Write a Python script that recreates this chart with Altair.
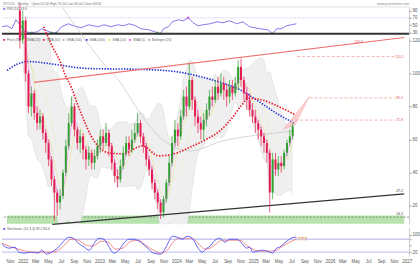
import altair as alt
import pandas as pd
import numpy as np

FONT = "Liberation Sans"

# ---------------- price candles (two-week bars) ----------------
candle_start = "2021-11-26"
candle_step_days = 14
first_open = 138
close = [120, 132, 100, 80, 88, 76, 70, 74, 64, 58,
         48, 36, 28, 22, 26, 40, 56, 70, 80, 66,
         58, 62, 54, 48, 52, 46, 50, 56, 62, 58,
         64, 56, 46, 38, 36, 44, 52, 58, 54, 60,
         64, 70, 62, 56, 48, 42, 34, 28, 22, 16,
         24, 34, 46, 58, 66, 62, 74, 86, 80, 96,
         84, 74, 70, 66, 72, 78, 86, 84, 92, 88,
         94, 90, 86, 92, 88, 94, 104, 96, 88, 84,
         78, 74, 70, 66, 62, 58, 52, 28, 48, 42,
         46, 44, 52, 58, 62, 68]
high = [142, 138, 134, 102, 92, 90, 80, 78, 76, 66,
        60, 50, 38, 30, 30, 42, 60, 76, 86, 82,
        68, 66, 64, 56, 56, 54, 54, 60, 66, 66,
        70, 66, 58, 48, 42, 48, 56, 62, 62, 66,
        70, 76, 72, 64, 58, 50, 44, 36, 30, 24,
        26, 36, 50, 62, 72, 70, 78, 90, 92, 106,
        98, 86, 78, 74, 76, 82, 90, 92, 96, 98,
        100, 98, 94, 96, 96, 98, 108, 109, 98, 92,
        88, 82, 78, 72, 68, 64, 60, 54, 52, 52,
        50, 50, 54, 60, 66, 70]
low = [115, 118, 95, 76, 74, 72, 66, 66, 60, 52,
       44, 32, 11, 14, 18, 24, 38, 54, 68, 62,
       54, 52, 48, 42, 44, 42, 42, 48, 52, 54,
       56, 50, 42, 34, 31, 34, 42, 50, 50, 52,
       58, 62, 58, 52, 44, 38, 30, 24, 18, 12,
       13, 22, 32, 44, 56, 56, 60, 72, 74, 78,
       78, 68, 64, 60, 60, 68, 74, 80, 82, 84,
       86, 84, 80, 82, 84, 86, 90, 92, 84, 78,
       74, 70, 64, 60, 56, 52, 46, 16, 24, 38,
       38, 40, 42, 50, 56, 60]

# ---------------- long moving averages (decimal year, price) ----------------
sma200_t = [2021.729, 2021.858, 2022.013, 2022.181, 2022.374, 2022.800, 2023.535,
            2023.961, 2024.400, 2024.658, 2024.826, 2025.084, 2025.342, 2025.561]
sma200_v = [101.8, 105.4, 107.2, 106.6, 105.4, 103.0, 102.4,
            101.2, 97.0, 93.4, 90.4, 83.2, 75.4, 70.0]
sma50_t = [2022.219, 2022.335, 2022.439, 2022.503, 2022.594, 2022.671, 2022.761, 2022.852,
           2022.955, 2023.084, 2023.277, 2023.535, 2023.755, 2023.961, 2024.181, 2024.400,
           2024.568, 2024.723, 2024.852, 2024.955, 2025.148, 2025.342, 2025.561]
sma50_v = [128.2, 116.2, 107.2, 99.4, 91.0, 81.4, 71.2, 62.2,
           55.6, 52.0, 51.4, 56.2, 50.2, 51.4, 55.6, 60.4,
           65.2, 72.4, 80.2, 85.0, 83.8, 80.2, 75.4]
sma100_t = [2022.465, 2022.697, 2022.994, 2023.213, 2023.471, 2023.794, 2024.181, 2024.606, 2025.084, 2025.561]
sma100_v = [140.2, 125.2, 107.2, 96.4, 78.4, 60.4, 53.2, 59.2, 62.8, 65.2]

# ---------------- drawings ----------------
red_tl_t = [2022.090, 2027.032]
red_tl_p = [94.6, 121.7]
blk_tl_t = [2022.335, 2027.032]
blk_tl_p = [8.8, 27.2]
level_p = [110.2, 85.2, 71.8]
level_start = [2025.600, 2025.768, 2025.574]
level_end = 2026.916
wedge_t = [2025.419, 2025.574, 2025.768]
wedge_top = [66.4, 75.2, 86.2]
wedge_bot = [66.4, 68.8, 86.2]
band_lo, band_hi, band_line = 9.2, 14.2, 13.2

# ---------------- RSI ----------------
rsi_t = [2021.729, 2021.794, 2021.858, 2021.910, 2021.974, 2022.026, 2022.116, 2022.194, 2022.245,
         2022.310, 2022.374, 2022.439, 2022.503, 2022.594, 2022.658, 2022.761, 2022.852, 2022.981,
         2023.058, 2023.148, 2023.239, 2023.316, 2023.381, 2023.471, 2023.535, 2023.639, 2023.755,
         2023.794, 2023.832, 2023.897, 2023.948, 2024.026, 2024.090, 2024.155, 2024.219, 2024.284,
         2024.348, 2024.439, 2024.529, 2024.606, 2024.697, 2024.787, 2024.865, 2024.955, 2025.084,
         2025.187, 2025.252, 2025.303, 2025.368, 2025.432, 2025.497, 2025.561]
rsi_v = [45.5, 48.2, 40.0, 64.5, 48.2, 31.8, 29.1, 31.8, 40.0,
         34.5, 29.1, 29.1, 45.5, 53.6, 48.2, 42.7, 50.9, 45.5,
         50.9, 45.5, 50.9, 48.2, 53.6, 48.2, 40.0, 37.3, 29.1,
         26.4, 40.0, 45.5, 59.1, 64.5, 61.8, 70.0, 56.4, 48.2,
         50.9, 53.6, 59.1, 56.4, 61.8, 53.6, 59.1, 45.5, 40.0,
         37.3, 26.4, 40.0, 40.0, 48.2, 50.9, 53.6]

# ---------------- Stochastic ----------------
stk_t = [2021.729, 2021.819, 2021.897, 2021.948, 2022.026, 2022.116, 2022.206, 2022.245, 2022.310, 2022.374,
         2022.465, 2022.542, 2022.594, 2022.658, 2022.723, 2022.800, 2022.865, 2022.929, 2022.994, 2023.058,
         2023.110, 2023.187, 2023.252, 2023.316, 2023.381, 2023.445, 2023.535, 2023.626, 2023.703, 2023.794,
         2023.858, 2023.897, 2023.948, 2024.013, 2024.077, 2024.142, 2024.206, 2024.284, 2024.335, 2024.400,
         2024.439, 2024.503, 2024.568, 2024.632, 2024.697, 2024.787, 2024.852, 2024.916, 2024.955, 2024.994,
         2025.058, 2025.123, 2025.213, 2025.252, 2025.303, 2025.342, 2025.406, 2025.471, 2025.535, 2025.561]
stk_v = [56.9, 38.5, 43.1, 20.0, 15.4, 20.0, 15.4, 29.2, 10.8, 20.0,
         43.1, 75.4, 89.2, 84.6, 61.5, 43.1, 29.2, 61.5, 84.6, 80.0,
         52.3, 15.4, 29.2, 61.5, 80.0, 80.0, 66.1, 38.5, 15.4, 10.8,
         38.5, 66.1, 93.8, 89.2, 80.0, 93.8, 84.6, 38.5, 20.0, 38.5,
         47.7, 75.4, 84.6, 66.1, 80.0, 80.0, 61.5, 38.5, 43.1, 20.0,
         24.6, 29.2, 20.0, 15.4, 38.5, 43.1, 61.5, 80.0, 89.2, 89.2]
std_t = [2021.729, 2021.858, 2021.987, 2022.116, 2022.245, 2022.374, 2022.465, 2022.542, 2022.632, 2022.723,
         2022.826, 2022.916, 2023.019, 2023.110, 2023.213, 2023.303, 2023.406, 2023.510, 2023.600, 2023.703,
         2023.794, 2023.884, 2023.948, 2024.026, 2024.116, 2024.206, 2024.284, 2024.374, 2024.439, 2024.516,
         2024.594, 2024.697, 2024.826, 2024.916, 2024.994, 2025.084, 2025.213, 2025.303, 2025.381, 2025.471,
         2025.561]
std_v = [61.5, 43.1, 29.2, 20.0, 20.0, 20.0, 29.2, 52.3, 80.0, 75.4,
         52.3, 47.7, 70.8, 66.1, 33.8, 38.5, 70.8, 75.4, 52.3, 29.2,
         15.4, 29.2, 61.5, 84.6, 84.6, 84.6, 61.5, 33.8, 38.5, 56.9,
         75.4, 75.4, 75.4, 52.3, 33.8, 24.6, 24.6, 29.2, 47.7, 66.1,
         80.0]

legend_items = [("Price (W)", "#e31a4a"), ("SMA (20)", "#e6d85a"), ("SMA (50)", "#e8202a"),
                ("SMA (100)", "#aaaaaa"), ("SMA (200)", "#1f2fd6"), ("SMA (10)", "#e6d85a"),
                ("SMA (5)", "#e548e5"), ("Bollinger (20)", "#999999")]

# ---------------- helpers ----------------
def to_date(t):
    y = int(np.floor(t))
    return pd.Timestamp(year=y, month=1, day=1) + pd.Timedelta(days=(t - y) * 365.25)

def series(ts, vs):
    return pd.DataFrame({"date": [to_date(t) for t in ts], "v": vs})

XDOM = [alt.DateTime(year=2021, month=9, date=24), alt.DateTime(year=2027, month=1, date=12)]
xsc = alt.Scale(domain=XDOM)

def X(field="date", axis=None):
    return alt.X(f"{field}:T", scale=xsc, axis=axis, title=None)

one = pd.DataFrame({"k": [0]})

def txt(s, px, py, size=3.6, color="#555", align="left", baseline="middle"):
    return alt.Chart(one).mark_text(text=s, align=align, baseline=baseline, fontSize=size,
                                    color=color, font=FONT).encode(x=alt.value(px), y=alt.value(py))

W = 410

# ---------------- main price panel ----------------
ysc = alt.Scale(domain=[8.8, 122.2], nice=False, zero=False)
yax = alt.Axis(orient="right", values=[20, 40, 60, 80, 100, 120], labelFontSize=4.5, labelColor="#555",
               tickSize=2, tickColor="#999", domainColor="#999", domainWidth=0.5, grid=False,
               title=None, labelPadding=1)

def Y(field):
    return alt.Y(f"{field}:Q", scale=ysc, axis=yax, title=None)

dates = pd.date_range(candle_start, periods=len(close), freq=f"{candle_step_days}D")
candles = pd.DataFrame({"date": dates, "open": [first_open] + close[:-1],
                        "high": high, "low": low, "close": close})
candles["dir"] = np.where(candles["close"] >= candles["open"], "up", "down")
ccol = alt.Color("dir:N", scale=alt.Scale(domain=["up", "down"], range=["#2f9e2f", "#e31a4a"]), legend=None)

d0, d1 = to_date(2021.729), to_date(2027.032)
band_df = pd.DataFrame({"x0": [d0], "x1": [d1], "p0": [band_lo], "p1": [band_hi]})
band = alt.Chart(band_df).mark_rect(color="#b6e3ad").encode(x=X("x0"), x2="x1:T", y=Y("p0"), y2="p1")
band_dash = alt.Chart(pd.DataFrame({"v": [band_line]})).mark_rule(
    color="#555", strokeDash=[2, 1.5], strokeWidth=0.6).encode(y=Y("v"))

boll_base = alt.Chart(candles).transform_window(
    bm="mean(close)", bs="stdev(close)", frame=[-9, 0], sort=[alt.SortField("date")]
).transform_calculate(bu="datum.bm + 2*datum.bs", bl="datum.bm - 2*datum.bs"
).transform_filter("isFinite(datum.bu)")
boll = boll_base.mark_area(color="#efefef", clip=True, interpolate="monotone").encode(x=X(), y=Y("bu"), y2="bl")
boll_u = boll_base.mark_line(color="#d9d9d9", strokeWidth=0.5, clip=True, interpolate="monotone").encode(x=X(), y=Y("bu"))
boll_l = boll_base.mark_line(color="#d9d9d9", strokeWidth=0.5, clip=True, interpolate="monotone").encode(x=X(), y=Y("bl"))
boll_m = boll_base.mark_line(color="#e9e4a6", strokeWidth=0.7, strokeDash=[1, 1.5],
                             interpolate="monotone").encode(x=X(), y=Y("bm"))

sma100 = alt.Chart(series(sma100_t, sma100_v)).mark_line(
    color="#bbbbbb", strokeWidth=0.6, interpolate="monotone").encode(x=X(), y=Y("v"))
sma200 = alt.Chart(series(sma200_t, sma200_v)).mark_line(
    color="#1f2fd6", strokeWidth=1.6, strokeDash=[1.4, 1.4], interpolate="monotone").encode(x=X(), y=Y("v"))
sma50 = alt.Chart(series(sma50_t, sma50_v)).mark_line(
    color="#ec1c2c", strokeWidth=1.7, strokeDash=[1.5, 1.5], interpolate="monotone").encode(x=X(), y=Y("v"))
ma_yel = alt.Chart(candles).transform_window(
    m="mean(close)", frame=[-4, 0], sort=[alt.SortField("date")]
).mark_line(color="#e6d85a", strokeWidth=0.8, strokeDash=[1, 1.2], interpolate="monotone").encode(x=X(), y=Y("m"))
ma_mag = alt.Chart(candles).transform_window(
    m="mean(close)", frame=[-2, 0], sort=[alt.SortField("date")]
).mark_line(color="#e548e5", strokeWidth=0.8, strokeDash=[1, 1.2], interpolate="monotone").encode(x=X(), y=Y("m"))

red_tl = alt.Chart(series(red_tl_t, red_tl_p)).mark_line(color="#f07070", strokeWidth=1.2).encode(x=X(), y=Y("v"))
blk_tl = alt.Chart(series(blk_tl_t, blk_tl_p)).mark_line(color="#333333", strokeWidth=1.2).encode(x=X(), y=Y("v"))

lev_df = pd.DataFrame({"x0": [to_date(t) for t in level_start], "x1": [to_date(level_end)] * 3, "p": level_p})
levels = alt.Chart(lev_df).mark_rule(color="#f4a0a0", strokeDash=[3, 2], strokeWidth=0.8).encode(
    x=X("x0"), x2="x1:T", y=Y("p"))
lev_lab_df = pd.DataFrame({"date": [to_date(2026.968)] * 3, "p": level_p,
                           "t": [f"{v:.1f}" for v in level_p]})
lev_lab = alt.Chart(lev_lab_df).mark_text(fontSize=3.5, color="#e05050", font=FONT).encode(
    x=X(), y=Y("p"), text="t:N")

ann_df = pd.DataFrame({"date": [to_date(2026.42), to_date(2026.968), to_date(2026.968)],
                       "p": [118.8, 29.0, 15.0], "t": ["118.8", "27.2", "14.2"],
                       "c": ["#e05050", "#333333", "#333333"]})
ann = alt.Chart(ann_df).mark_text(fontSize=3.5, font=FONT).encode(
    x=X(), y=Y("p"), text="t:N", color=alt.Color("c:N", scale=None))

wedge_df = pd.DataFrame({"date": [to_date(t) for t in wedge_t], "top": wedge_top, "bot": wedge_bot})
wedge = alt.Chart(wedge_df).mark_area(color="#f7b0b0", opacity=0.6, stroke="#f08080",
                                      strokeWidth=0.5).encode(x=X(), y=Y("top"), y2="bot")

wicks = alt.Chart(candles).mark_rule(strokeWidth=0.7).encode(x=X(), y=Y("low"), y2="high", color=ccol)
bodies = alt.Chart(candles).mark_bar(size=2).encode(x=X(), y=Y("open"), y2="close", color=ccol)

legend_px = [1, 21, 41, 61, 84, 107, 128, 147]
leg_layers = []
for (name, col), px in zip(legend_items, legend_px):
    leg_layers.append(txt("\u25a0", px, 3.5, size=3.6, color=col))
    leg_layers.append(txt(name, px + 4, 3.5, size=3.3, color="#666"))

main = alt.layer(band, band_dash, boll, boll_u, boll_l, boll_m, sma100, sma200, ma_yel, sma50,
                 red_tl, blk_tl, levels, lev_lab, ann, wedge, wicks, bodies, ma_mag,
                 *leg_layers).properties(width=W, height=189)

# ---------------- RSI panel ----------------
rsc = alt.Scale(domain=[26.4, 100], nice=False, zero=False)
rax = alt.Axis(orient="right", values=[30, 50, 70, 90], labelFontSize=4.5, labelColor="#555", tickSize=2,
               tickColor="#999", domainColor="#999", domainWidth=0.5, grid=False, title=None, labelPadding=1)

def RY(field):
    return alt.Y(f"{field}:Q", scale=rsc, axis=rax, title=None)

rsi_df = series(rsi_t, rsi_v)
rsi_top = alt.Chart(pd.DataFrame({"v": [100]})).mark_rule(color="#cccccc", strokeWidth=0.6).encode(y=RY("v"))
rsi_70 = alt.Chart(pd.DataFrame({"v": [70]})).mark_rule(color="#b4b4ee", strokeWidth=0.7,
                                                          strokeDash=[1, 1]).encode(y=RY("v"))
rsi_line = alt.Chart(rsi_df).mark_line(color="#7b68ee", strokeWidth=0.9).encode(x=X(), y=RY("v"))
rsi_lo = alt.Chart(rsi_df).transform_filter("datum.v <= 30").mark_point(
    filled=True, size=5, color="#22aa22").encode(x=X(), y=RY("v"))
rsi_hi = alt.Chart(rsi_df).transform_filter("datum.v >= 69").mark_point(
    filled=True, size=6, color="#cc33cc").encode(x=X(), y=RY("v"))
rsi_bot = alt.Chart(pd.DataFrame({"v": [26.4]})).mark_rule(color="#333333", strokeWidth=2).encode(y=RY("v"))

rsi = alt.layer(rsi_top, rsi_70, rsi_line, rsi_lo, rsi_hi, rsi_bot,
                txt("\u25a0", 1, 2.5, size=3.6, color="#7b68ee"),
                txt("RSI (14)  53.6", 5, 2.5, size=3.4, color="#666"),
                txt("STOCK  \u00b7  Weekly  \u00b7  Open 62.00  High 70.00  Low 60.00  Close 68.00", 1, -2.5,
                    size=3.4, color="#777"),
                txt("www.prorealtime.com", W, -2.5, size=3.4, color="#888", align="right")
                ).properties(width=W, height=27)

# ---------------- Stochastic panel ----------------
ssc = alt.Scale(domain=[1.5, 135.4], nice=False, zero=False)
sax = alt.Axis(orient="right", values=[0, 20, 50, 80, 100], labelFontSize=4.5, labelColor="#555", tickSize=2,
               tickColor="#999", domainColor="#999", domainWidth=0.5, grid=False, title=None, labelPadding=1)
xax = alt.Axis(labelExpr="month(datum.value) == 0 ? timeFormat(datum.value, '%Y') : timeFormat(datum.value, '%b')",
               tickCount={"interval": "month", "step": 2}, labelFontSize=4.5, labelColor="#555",
               tickSize=0, domain=False, grid=False, labelPadding=2, labelOverlap=False, title=None)

def SY(field):
    return alt.Y(f"{field}:Q", scale=ssc, axis=sax, title=None)

st_bands = alt.Chart(pd.DataFrame({"v": [80, 20]})).mark_rule(color="#c9c9f2", strokeWidth=1.4).encode(y=SY("v"))
st_k = alt.Chart(series(stk_t, stk_v)).mark_line(color="#5050f0", strokeWidth=0.9,
                                                 interpolate="monotone").encode(x=X(axis=xax), y=SY("v"))
st_d = alt.Chart(series(std_t, std_v)).mark_line(color="#f08080", strokeWidth=0.9,
                                                 interpolate="monotone").encode(x=X(axis=xax), y=SY("v"))
qq = alt.Chart(pd.DataFrame({"date": [to_date(2025.64)], "v": [80], "t": ["???"]})).mark_text(
    fontSize=5.5, color="#f0a050", font=FONT, fontWeight="bold").encode(x=X(axis=xax), y=SY("v"), text="t:N")

stoch = alt.layer(st_bands, st_d, st_k, qq,
                  txt("\u25a0", 1, 1.5, size=3.6, color="#5050f0"),
                  txt("Stochastic (14,3,3)  89.2  80.0", 5, 1.5, size=3.4, color="#666")
                  ).properties(width=W, height=29)

chart = alt.vconcat(rsi, main, stoch, spacing=3, bounds="flush").properties(
    padding={"left": 0, "top": 1, "right": 0, "bottom": 0}, background="white"
).configure_view(stroke=None).configure_axis(labelFont=FONT)

chart.save("out.html", embed_options={"renderer": "svg", "actions": False})
